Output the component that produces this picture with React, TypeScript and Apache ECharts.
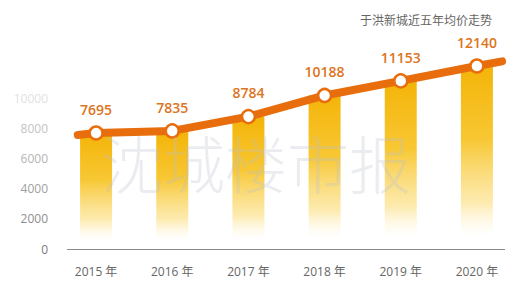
import React, { useEffect, useRef } from "react";
import * as echarts from "echarts";

const categories = ["2015 年", "2016 年", "2017 年", "2018 年", "2019 年", "2020 年"];
const prices = [7695, 7835, 8784, 10188, 11153, 12140];
// decorative lead-in / lead-out ends of the trend line: [x position in category units, value]
const lineStart = [-0.24, 7560];
const lineEnd = [5.33, 12450];
const yTickLabelColors: Record<string, string> = {
  "0": "#7a7a7a",
  "2000": "#8e8e8e",
  "4000": "#a0a0a0",
  "6000": "#b4b4b4",
  "8000": "#c4c4c4",
  "10000": "#e2e2e2",
};
const titleText = "于洪新城近五年均价走势";
const watermarkText = "沈城楼市报";

const FONT = "'Open Sans', 'Noto Sans CJK SC', sans-serif";

export default function App() {
  const ref = useRef<HTMLDivElement>(null);
  useEffect(() => {
    if (!ref.current) return;
    const chart = echarts.init(ref.current, undefined, { renderer: "svg" });
    const lineData: any[] = [
      { value: lineStart, symbol: "none", label: { show: false } },
      ...prices.map((v, i) => ({ value: [i, v] })),
      { value: lineEnd, symbol: "none", label: { show: false } },
    ];
    chart.setOption({
      animation: false,
      textStyle: { fontFamily: FONT },
      title: {
        text: titleText,
        right: 18,
        top: 9,
        textStyle: { fontSize: 12, fontWeight: "normal", color: "#666", fontFamily: FONT },
      },
      grid: { left: 58, right: -1, top: 38, bottom: 39 },
      xAxis: [
        {
          type: "category",
          data: categories,
          boundaryGap: true,
          axisLine: { show: false },
          axisTick: { show: false },
          axisLabel: { color: "#666", fontSize: 12, margin: 16, fontFamily: FONT },
        },
        {
          type: "value",
          min: -0.5,
          max: 5.5,
          show: false,
        },
      ],
      yAxis: {
        type: "value",
        min: 0,
        max: 14000,
        interval: 2000,
        splitLine: { show: false },
        axisLine: { show: false },
        axisTick: { show: false },
        axisLabel: {
          margin: 10,
          fontSize: 12,
          fontFamily: FONT,
          formatter: (v: number) => {
            const key = String(v);
            return yTickLabelColors[key] ? `{c${key}|${key}}` : "";
          },
          rich: Object.fromEntries(
            Object.entries(yTickLabelColors).map(([k, c]) => [
              "c" + k,
              { color: c, fontSize: 12, fontFamily: FONT },
            ])
          ),
        },
      },
      graphic: [
        {
          type: "line",
          shape: { x1: 67, y1: 249.5, x2: 505, y2: 249.5 },
          style: { stroke: "#8a8a8a", lineWidth: 1 },
          z: 1,
        },
        {
          type: "text",
          x: 256,
          y: 162,
          z: 100,
          style: {
            text: watermarkText,
            fontSize: 62,
            fontWeight: 300,
            fontFamily: "'Noto Sans CJK SC', sans-serif",
            fill: "rgba(185,193,204,0.3)",
            align: "center",
            verticalAlign: "middle",
          },
        },
      ],
      series: [
        {
          type: "bar",
          data: prices,
          barWidth: 32,
          itemStyle: {
            color: new echarts.graphic.LinearGradient(0, 0, 0, 1, [
              { offset: 0, color: "rgba(244,180,8,1)" },
              { offset: 0.4, color: "rgba(247,196,40,0.95)" },
              { offset: 0.75, color: "rgba(251,218,110,0.55)" },
              { offset: 0.93, color: "rgba(255,240,200,0)" },
              { offset: 1, color: "rgba(255,255,255,0)" },
            ]),
          },
          z: 2,
        },
        {
          type: "line",
          xAxisIndex: 1,
          data: lineData,
          smooth: false,
          symbol: "circle",
          symbolSize: 13,
          clip: false,
          lineStyle: { color: "#E86D0C", width: 8, cap: "round" },
          itemStyle: { color: "#fff", borderColor: "#E86D0C", borderWidth: 2.5 },
          label: {
            show: true,
            position: "top",
            distance: 9,
            fontSize: 14,
            fontWeight: 600,
            color: "#DD7420",
            fontFamily: FONT,
            formatter: (p: any) => String(p.value[1]),
          },
          z: 5,
        },
      ],
    });
    return () => chart.dispose();
  }, []);
  return <div ref={ref} style={{ width: 515, height: 288, position: "absolute", left: 0, top: 0 }} />;
}
